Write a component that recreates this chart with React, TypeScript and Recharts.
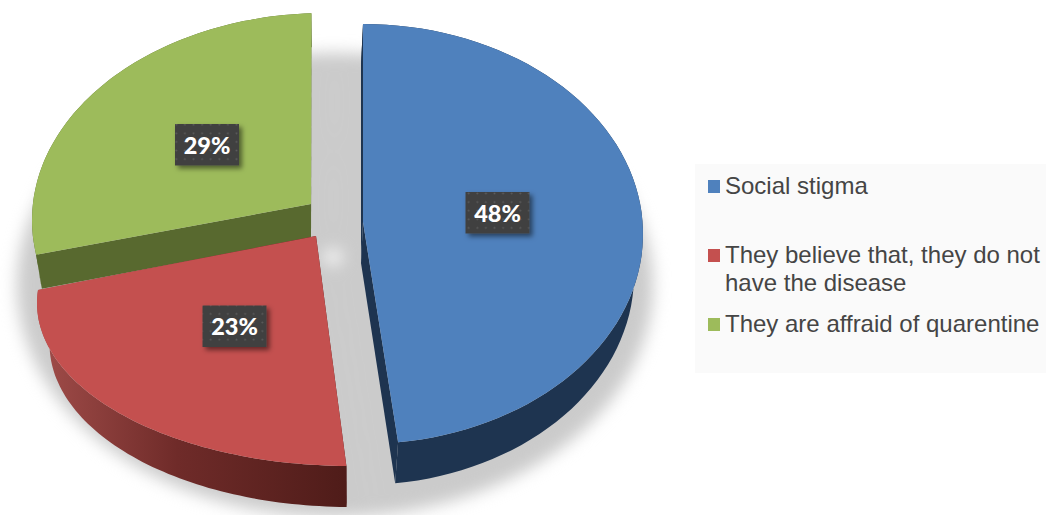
import { PieChart, Pie, Legend } from 'recharts';

const categories = ['Social stigma', 'They believe that, they do not have the disease', 'They are affraid of quarentine'];
const shares = [48, 23, 29];

const faceColors = ['#4f81bd', '#c4504f', '#9dbb5b'];
const wallStops = [
  ['#1e3450', '#1e3450', '#1e3450'],
  ['#a04c49', '#6f2b29', '#4f1c19'],
  ['#58692f', '#58692f', '#58692f'],
];

// Each exploded slice has its own rim ellipse because of the 3D perspective
const sliceShapes = [
  { ax: 363, ay: 222, ex: 363, ey: 234, rx: 280, ry: 210, k: 1, off: 0, dx: -2, dy: 41, taper: 0.975, labelX: 497.5, labelY: 213 },
  { ax: 316, ay: 236, ex: 350, ey: 303, rx: 313, ry: 163, k: 1.134, off: -15.3, dx: 0, dy: 41, taper: 0.96, labelX: 234.5, labelY: 326.5 },
  { ax: 311, ay: 204, ex: 325, ey: 220, rx: 293, ry: 207, k: 0.929, off: 22.9, dx: 0, dy: 34, taper: 0.98, labelX: 207, labelY: 145 },
];

const legendTops = [172, 241, 310];

// drawn back to front: green, red, blue
const pieData = categories
  .map((name, slot) => ({ name, value: shares[slot], slot }))
  .reverse();

const rad = (d: number) => (d * Math.PI) / 180;

// recharts angles run counter-clockwise from east, the rim works clockwise from north
const rimAngles = (startAngle: number, endAngle: number) => {
  const out: number[] = [];
  const steps = 72;
  for (let i = 0; i <= steps; i++) {
    out.push(450 - (startAngle + ((endAngle - startAngle) * i) / steps));
  }
  return out;
};

const pathOf = (pts: number[][]) => 'M' + pts.map((p) => `${p[0].toFixed(1)},${p[1].toFixed(1)}`).join('L') + 'Z';

function SliceShape(props: any) {
  const slot = props.payload?.slot ?? props.slot;
  const g = sliceShapes[slot];
  const angles = rimAngles(props.startAngle, props.endAngle);
  const top = angles.map((a) => {
    const t = rad(g.k * a + g.off);
    return [g.ex + g.rx * Math.sin(t), g.ey - g.ry * Math.cos(t)];
  });
  const low = angles.map((a) => {
    const t = rad(g.k * a + g.off);
    return [g.ex + g.dx + g.rx * g.taper * Math.sin(t), g.ey + g.dy - g.ry * Math.cos(t)];
  });
  const apex = [g.ax, g.ay];
  const apexLow = [g.ax + g.dx, g.ay + g.dy];
  const last = top.length - 1;
  const wallId = `wall-${slot}`;
  const wallFill = `url(#${wallId})`;
  return (
    <g>
      <defs>
        <linearGradient id={wallId} gradientUnits="userSpaceOnUse" x1={40} y1={0} x2={346} y2={0}>
          <stop offset="0%" stopColor={wallStops[slot][0]} />
          <stop offset="45%" stopColor={wallStops[slot][1]} />
          <stop offset="100%" stopColor={wallStops[slot][2]} />
        </linearGradient>
      </defs>
      <path d={pathOf([apex, top[0], low[0], apexLow])} fill={wallFill} />
      <path d={pathOf([apex, top[last], low[last], apexLow])} fill={wallFill} />
      <path d={pathOf([...top, ...low.slice().reverse()])} fill={wallFill} />
      <path d={pathOf([apex, ...top])} fill={faceColors[slot]} />
    </g>
  );
}

// Ground shadow: one ellipse split into annular sectors, blurred as a group
function ShadowShape(props: any) {
  const { cx, cy, innerRadius, outerRadius } = props;
  const angles = rimAngles(props.startAngle, props.endAngle);
  const outer = angles.map((a) => [335 + outerRadius * Math.sin(rad(a)), 285 - 232 * Math.cos(rad(a))]);
  const inner = angles.map((a) => [cx + innerRadius * Math.sin(rad(a)), cy - 0.8 * innerRadius * Math.cos(rad(a))]);
  return <path d={pathOf([...outer, ...inner.reverse()])} fill="#cbcbcb" />;
}

function ShareLabel(props: any) {
  const slot = props.payload?.slot ?? props.slot;
  const g = sliceShapes[slot];
  return (
    <g>
      <defs>
        <pattern id={`dots-${slot}`} width={8.6} height={8.6} patternUnits="userSpaceOnUse">
          <rect width={8.6} height={8.6} fill="#3f3f3f" />
          <circle cx={4.3} cy={4.3} r={1} fill="#5c5c5c" />
        </pattern>
        <filter id={`drop-${slot}`} x="-30%" y="-30%" width="170%" height="170%">
          <feDropShadow dx={3} dy={3} stdDeviation={2.5} floodColor="#000" floodOpacity={0.5} />
        </filter>
      </defs>
      <rect
        x={g.labelX - 32}
        y={g.labelY - 21}
        width={64}
        height={41.5}
        fill={`url(#dots-${slot})`}
        filter={`url(#drop-${slot})`}
      />
      <text
        x={g.labelX}
        y={g.labelY + 8.5}
        textAnchor="middle"
        fontFamily="Lato, sans-serif"
        fontWeight={900}
        fontSize={23.5}
        fill="#ffffff"
      >
        {props.value}%
      </text>
    </g>
  );
}

function SideLegend() {
  return (
    <div style={{ position: 'relative', width: 351, height: 209, background: '#fafafa' }}>
      {categories.map((name, i) => (
        <div
          key={name}
          style={{
            position: 'absolute',
            left: 30,
            top: legendTops[i] - 164,
            width: 321,
            fontFamily: '"Liberation Sans", Arial, sans-serif',
            fontSize: 24,
            lineHeight: '28px',
            color: '#454545',
          }}
        >
          <span
            style={{
              position: 'absolute',
              left: -17,
              top: 8,
              width: 12,
              height: 13,
              background: faceColors[i],
            }}
          />
          {name}
        </div>
      ))}
    </div>
  );
}

export default function App() {
  return (
    <div style={{ position: 'absolute', left: 0, top: 0, width: 1046, height: 515, background: '#fff', overflow: 'hidden' }}>
      <style>{'.ground-shadow { filter: blur(8px); }'}</style>
      <PieChart width={1046} height={515} margin={{ top: 0, right: 0, bottom: 0, left: 0 }}>
        <Pie
          className="ground-shadow"
          data={pieData}
          dataKey="value"
          nameKey="name"
          cx={333}
          cy={257}
          innerRadius={9}
          outerRadius={318}
          startAngle={90}
          endAngle={450}
          stroke="none"
          shape={ShadowShape}
          isAnimationActive={false}
        />
        <Pie
          data={pieData}
          dataKey="value"
          nameKey="name"
          cx={335}
          cy={235}
          outerRadius={280}
          startAngle={90}
          endAngle={450}
          stroke="none"
          shape={SliceShape}
          label={ShareLabel}
          labelLine={false}
          isAnimationActive={false}
        />
        <Legend
          content={<SideLegend />}
          wrapperStyle={{ position: 'absolute', left: 695, top: 164, width: 351, height: 209 }}
        />
      </PieChart>
    </div>
  );
}
